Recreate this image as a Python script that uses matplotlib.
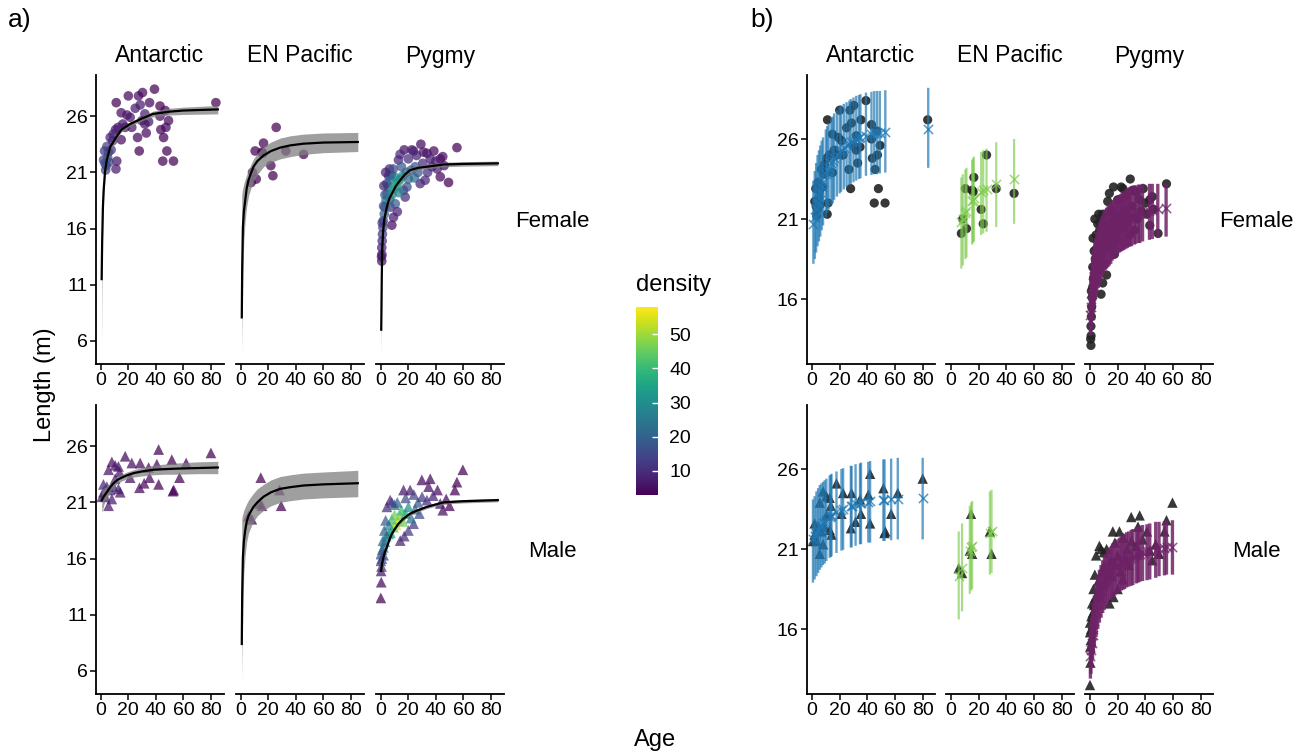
#########################################
# 1. Imports
#########################################

import numpy as np
import matplotlib.pyplot as plt
from matplotlib.colors import Normalize
from matplotlib.cm import ScalarMappable

plt.rcParams['font.family'] = ['Liberation Sans', 'DejaVu Sans']

#########################################
# 2. Data
#########################################

populations = ["Antarctic", "EN Pacific", "Pygmy"]
sexes = ["Female", "Male"]
x_ticks = [0, 20, 40, 60, 80]
left_y_ticks = [6, 11, 16, 21, 26]
right_y_ticks = [16, 21, 26]
density_ticks = [10, 20, 30, 40, 50]

# observed whales: (age, length, point density)
af_points = [
    (83.6, 27.2, 3), (39.0, 28.4, 3), (20.0, 27.8, 4), (27.4, 27.8, 5), (30.3, 28.1, 4),
    (11.2, 27.2, 3), (35.4, 27.2, 4), (43.0, 26.9, 3), (14.8, 26.3, 5), (19.0, 26.1, 6),
    (21.3, 25.9, 6), (25.0, 26.7, 7), (28.6, 27.0, 7), (32.0, 26.2, 7), (34.7, 25.5, 6),
    (32.0, 25.3, 6), (29.8, 25.6, 7), (43.0, 26.0, 5), (46.8, 26.5, 4), (49.2, 25.6, 4),
    (16.0, 25.3, 6), (22.5, 25.0, 6), (17.7, 25.0, 6), (26.7, 24.1, 4), (33.0, 24.5, 4),
    (43.6, 24.8, 4), (47.3, 25.0, 4), (45.6, 24.1, 3), (14.8, 23.9, 5), (10.7, 24.8, 6),
    (6.8, 24.1, 9), (27.9, 22.9, 3), (48.0, 22.9, 3), (45.0, 22.0, 3), (52.8, 22.0, 3),
    (11.6, 22.0, 6), (11.0, 21.3, 7), (2.7, 22.9, 12), (4.4, 23.3, 13), (2.0, 22.1, 14),
    (4.0, 21.6, 16), (5.0, 22.3, 16), (6.0, 21.9, 15), (3.5, 21.2, 14), (5.5, 22.8, 14),
    (7.5, 23.0, 11), (8.5, 23.8, 9), (3.0, 21.8, 15), (9.0, 24.4, 8), (12.5, 25.0, 7),
]
enpf_points = [
    (25.7, 25.0, 3), (16.5, 23.6, 3), (10.4, 22.9, 3), (15.3, 22.8, 3), (16.0, 22.7, 3),
    (32.7, 22.9, 3), (45.6, 22.6, 3), (21.8, 21.6, 3), (23.3, 20.7, 3), (8.5, 21.0, 3),
    (11.2, 20.4, 3), (7.5, 20.1, 3),
]
pf_points = [
    (55.3, 23.2, 3), (29.1, 23.5, 4), (17.0, 23.0, 5), (23.8, 22.9, 6), (12.8, 22.1, 8),
    (33.5, 22.7, 6), (35.9, 22.2, 7), (43.2, 22.2, 5), (45.0, 22.4, 5), (40.0, 22.0, 7),
    (43.2, 20.6, 4), (49.2, 20.1, 3), (28.6, 20.0, 8), (32.2, 20.3, 9), (26.0, 22.5, 8),
    (20.0, 22.2, 10), (30.5, 21.8, 10), (37.0, 21.5, 8), (5.6, 20.7, 10), (6.3, 21.3, 8),
    (4.4, 20.0, 14), (17.7, 18.8, 10), (16.5, 19.4, 14), (9.2, 17.0, 7), (8.0, 16.3, 5),
    (6.8, 17.9, 12), (0.7, 13.1, 6), (0.8, 13.7, 7), (0.7, 14.3, 8), (1.0, 14.9, 10),
    (1.2, 15.5, 12), (1.5, 16.1, 14), (1.8, 16.7, 16), (2.5, 17.3, 18), (3.0, 17.9, 20),
    (3.8, 18.5, 22), (4.5, 19.1, 22), (5.5, 19.7, 24), (7.0, 20.3, 22), (0.5, 13.5, 6),
    (1.0, 16.5, 12), (2.0, 18.0, 16), (3.0, 19.0, 18), (8.0, 19.0, 30), (9.5, 19.5, 34),
    (11.0, 19.8, 36), (12.5, 20.1, 35), (14.0, 20.4, 33), (10.0, 20.6, 30), (13.0, 19.2, 28),
    (16.0, 20.7, 28), (18.5, 21.0, 24), (20.0, 20.4, 22), (22.0, 21.2, 20), (24.5, 20.5, 22),
    (25.0, 21.5, 18), (27.0, 21.0, 18), (6.5, 18.6, 26), (7.5, 20.8, 20), (9.0, 21.3, 16),
    (15.0, 21.5, 18), (19.0, 19.7, 16), (10.5, 18.2, 18), (14.0, 22.6, 9), (22.5, 23.0, 8),
    (31.0, 22.8, 6), (38.5, 22.9, 4), (41.0, 21.3, 7), (46.0, 21.6, 5), (34.0, 21.0, 10),
    (12.0, 17.5, 8), (2.2, 19.8, 9), (3.5, 21.0, 8),
]
am_points = [
    (80.0, 25.4, 3), (42.0, 25.7, 3), (17.7, 25.1, 4), (51.6, 24.8, 3), (62.0, 24.5, 3),
    (8.0, 24.6, 5), (10.4, 24.3, 6), (12.8, 24.2, 6), (22.5, 24.5, 5), (28.6, 24.5, 4),
    (34.7, 24.1, 4), (40.7, 24.4, 4), (13.6, 23.7, 6), (5.6, 23.9, 6), (21.3, 23.2, 5),
    (35.4, 23.2, 4), (31.5, 22.7, 4), (28.1, 22.3, 4), (42.0, 22.6, 3), (57.2, 23.2, 3),
    (52.4, 22.0, 3), (53.0, 22.1, 3), (1.9, 22.6, 8), (4.4, 22.4, 9), (1.9, 21.9, 8),
    (6.8, 22.1, 9), (9.2, 22.4, 8), (12.8, 22.2, 7), (14.1, 21.9, 6), (8.0, 21.3, 7),
    (5.6, 20.7, 6), (10.4, 23.1, 7), (3.2, 21.5, 8), (0.7, 21.5, 6),
]
enpm_points = [
    (14.5, 23.2, 3), (28.1, 22.1, 3), (29.3, 20.7, 3), (15.3, 20.7, 3), (13.6, 20.9, 3),
    (5.6, 19.8, 3), (8.0, 19.5, 3),
]
pm_points = [
    (59.6, 23.9, 3), (55.3, 22.8, 3), (53.8, 22.1, 3), (49.9, 20.7, 3), (47.5, 21.3, 4),
    (29.8, 23.0, 4), (35.9, 23.1, 4), (34.7, 22.4, 5), (41.2, 22.1, 5), (16.5, 22.1, 6),
    (21.3, 22.1, 7), (4.4, 20.6, 10), (6.8, 21.2, 8), (14.1, 17.6, 8), (23.8, 19.1, 12),
    (33.5, 21.2, 10), (43.2, 20.9, 6), (0.0, 12.5, 3), (0.3, 13.9, 4), (0.2, 14.9, 6),
    (0.0, 15.8, 12), (0.0, 16.4, 16), (1.9, 17.0, 22), (5.6, 18.2, 30), (9.2, 18.8, 44),
    (12.8, 19.4, 56), (11.0, 19.0, 54), (14.0, 19.8, 50), (10.0, 19.9, 46), (8.0, 19.5, 42),
    (16.0, 19.3, 46), (15.0, 20.3, 40), (18.0, 20.0, 38), (20.0, 20.6, 30), (7.0, 18.3, 36),
    (6.0, 19.0, 30), (4.0, 18.0, 26), (3.0, 17.5, 26), (2.5, 18.5, 20), (3.5, 19.4, 18),
    (1.0, 16.8, 20), (1.5, 17.6, 22), (22.0, 19.6, 24), (25.0, 20.4, 22), (28.0, 20.0, 16),
    (27.0, 21.0, 18), (30.0, 21.5, 12), (24.0, 21.7, 14), (18.0, 21.4, 16), (12.0, 21.0, 20),
    (10.0, 20.8, 22), (8.0, 21.0, 14), (38.0, 21.6, 8), (45.0, 20.3, 5), (20.0, 18.5, 12),
    (17.0, 18.0, 10), (0.5, 15.3, 10), (0.8, 16.0, 16), (2.0, 16.3, 14),
]

# fitted growth curves for panel a): (age, lower, fit, upper)
af_curve = [
    (0.6, 5.5, 11.5, 12.5), (1.0, 13.0, 15.0, 16.0), (1.5, 16.8, 17.8, 18.6), (2.0, 18.5, 19.3, 19.9),
    (3.0, 20.4, 21.0, 21.5), (4.4, 21.7, 22.1, 22.5), (7.0, 23.0, 23.3, 23.6), (11.6, 24.0, 24.2, 24.5),
    (15.0, 24.6, 24.8, 25.0), (21.3, 25.1, 25.3, 25.5), (30.0, 25.6, 25.8, 26.0), (38.0, 25.95, 26.2, 26.45),
    (50.0, 26.1, 26.4, 26.7), (60.0, 26.15, 26.5, 26.8), (85.0, 26.2, 26.6, 26.95),
]
enpf_curve = [
    (0.7, 5.0, 8.1, 19.0), (1.0, 8.0, 12.5, 19.3), (1.5, 12.0, 16.1, 19.6), (2.2, 15.0, 17.5, 20.0),
    (3.2, 16.8, 18.5, 20.4), (4.3, 18.0, 19.6, 20.8), (5.6, 18.9, 20.3, 21.2), (7.3, 19.6, 20.9, 21.7),
    (9.2, 20.2, 21.5, 22.2), (12.0, 20.8, 22.0, 22.7), (16.5, 21.5, 22.5, 23.3), (22.0, 21.9, 22.9, 23.7),
    (28.6, 22.2, 23.2, 24.05), (36.0, 22.4, 23.4, 24.25), (45.6, 22.6, 23.55, 24.4), (60.0, 22.75, 23.65, 24.5),
    (85.0, 22.85, 23.7, 24.55),
]
pf_curve = [
    (0.3, 4.5, 7.0, 7.6), (0.7, 10.8, 11.7, 12.3), (1.0, 13.6, 14.1, 14.5), (1.6, 15.3, 15.6, 15.9),
    (2.4, 16.5, 16.7, 16.9), (3.3, 17.1, 17.3, 17.5), (4.4, 17.7, 17.9, 18.1), (6.0, 18.4, 18.6, 18.8),
    (8.0, 18.9, 19.1, 19.3), (11.0, 19.6, 19.8, 20.0), (14.1, 20.1, 20.3, 20.5), (17.5, 20.6, 20.8, 21.0),
    (21.3, 21.0, 21.2, 21.4), (27.0, 21.2, 21.4, 21.6), (33.5, 21.3, 21.5, 21.7), (45.6, 21.5, 21.7, 21.9),
    (60.0, 21.55, 21.75, 21.95), (85.0, 21.6, 21.8, 22.0),
]
am_curve = [
    (0.7, 20.1, 21.2, 22.2), (2.5, 20.9, 21.6, 22.3), (4.4, 21.4, 21.9, 22.4), (6.8, 21.95, 22.35, 22.75),
    (9.2, 22.35, 22.7, 23.05), (12.0, 22.7, 23.0, 23.3), (15.3, 22.9, 23.2, 23.5), (19.0, 23.1, 23.4, 23.7),
    (23.8, 23.25, 23.6, 23.9), (30.0, 23.35, 23.75, 24.1), (38.3, 23.45, 23.9, 24.3), (46.0, 23.5, 23.95, 24.4),
    (55.3, 23.5, 24.0, 24.5), (70.0, 23.55, 24.05, 24.6), (85.0, 23.55, 24.1, 24.65),
]
enpm_curve = [
    (0.7, 5.2, 8.4, 19.5), (1.0, 8.0, 12.8, 19.8), (1.5, 12.0, 16.1, 20.0), (2.2, 14.8, 17.5, 20.3),
    (3.2, 16.4, 18.5, 20.6), (4.3, 17.5, 19.3, 20.9), (5.6, 18.3, 19.8, 21.2), (7.3, 18.8, 20.2, 21.5),
    (9.2, 19.3, 20.6, 21.8), (12.0, 19.8, 21.0, 22.2), (16.5, 20.3, 21.5, 22.6), (22.0, 20.7, 21.9, 23.0),
    (28.6, 21.0, 22.2, 23.3), (36.0, 21.15, 22.35, 23.45), (45.6, 21.3, 22.5, 23.6), (60.0, 21.4, 22.6, 23.7),
    (85.0, 21.5, 22.7, 23.85),
]
pm_curve = [
    (0.2, 14.4, 14.9, 15.3), (1.0, 15.4, 15.6, 15.8), (1.9, 15.95, 16.1, 16.25), (3.0, 16.45, 16.6, 16.75),
    (4.4, 16.85, 17.0, 17.15), (6.0, 17.45, 17.6, 17.75), (8.0, 18.05, 18.2, 18.35), (10.0, 18.45, 18.6, 18.75),
    (12.8, 18.95, 19.1, 19.25), (16.0, 19.35, 19.5, 19.65), (21.3, 19.85, 20.0, 20.15), (27.0, 20.15, 20.3, 20.45),
    (33.5, 20.45, 20.6, 20.75), (45.6, 20.85, 21.0, 21.15), (60.0, 20.95, 21.1, 21.25), (85.0, 21.05, 21.2, 21.35),
]

# predictive intervals for panel b): (age, lower, mean, upper)
af_bars = [
    (1.0, 18.2, 20.7, 23.4), (2.0, 18.5, 21.1, 24.0), (3.0, 18.9, 21.6, 24.5), (4.0, 19.3, 22.0, 25.0),
    (5.0, 19.6, 22.4, 25.3), (6.0, 19.9, 22.7, 25.6), (7.0, 20.3, 23.0, 25.9), (8.0, 20.6, 23.3, 26.1),
    (10.0, 21.1, 23.8, 26.6), (11.0, 21.4, 24.0, 26.8), (12.0, 21.6, 24.2, 27.0), (14.0, 21.9, 24.5, 27.3),
    (15.0, 22.0, 24.6, 27.4), (16.0, 22.2, 24.8, 27.6), (18.0, 22.4, 25.0, 27.8), (20.0, 22.6, 25.2, 28.0),
    (21.0, 22.7, 25.3, 28.1), (23.0, 22.85, 25.45, 28.2), (25.0, 23.0, 25.6, 28.3), (27.0, 23.1, 25.7, 28.4),
    (28.0, 23.2, 25.8, 28.5), (30.0, 23.3, 25.9, 28.6), (32.0, 23.4, 26.0, 28.7), (34.0, 23.5, 26.05, 28.75),
    (35.0, 23.55, 26.1, 28.8), (39.0, 23.7, 26.2, 28.9), (43.0, 23.75, 26.3, 28.95), (45.0, 23.8, 26.35, 29.0),
    (47.0, 23.8, 26.4, 29.0), (49.0, 23.85, 26.4, 29.0), (53.0, 23.9, 26.45, 29.05), (84.0, 24.2, 26.6, 29.2),
]
enpf_bars = [
    (7.5, 17.9, 20.8, 23.6), (8.5, 18.1, 21.0, 23.8), (10.4, 18.5, 21.4, 24.1), (11.2, 18.6, 21.5, 24.2),
    (15.3, 19.4, 22.1, 24.7), (16.0, 19.5, 22.2, 24.8), (16.5, 19.6, 22.3, 24.9), (21.8, 20.0, 22.7, 25.2),
    (23.3, 20.1, 22.8, 25.3), (25.7, 20.2, 22.9, 25.4), (32.7, 20.5, 23.2, 25.8), (45.6, 20.7, 23.5, 26.0),
]
pf_bars = [
    (0.3, 13.7, 15.0, 16.6), (0.7, 14.0, 15.5, 17.2), (1.0, 14.3, 15.9, 17.7), (1.5, 14.7, 16.3, 18.2),
    (2.0, 15.1, 16.7, 18.6), (2.5, 15.4, 17.0, 19.0), (3.0, 15.7, 17.4, 19.3), (3.5, 15.9, 17.6, 19.6),
    (4.0, 16.1, 17.9, 19.8), (5.0, 16.4, 18.3, 20.2), (6.0, 16.7, 18.6, 20.5), (7.0, 16.9, 18.9, 20.8),
    (8.0, 17.2, 19.1, 21.0), (9.0, 17.4, 19.3, 21.2), (10.0, 17.6, 19.5, 21.4), (11.0, 17.8, 19.7, 21.6),
    (12.0, 17.9, 19.8, 21.7), (13.0, 18.0, 19.9, 21.8), (14.0, 18.1, 20.0, 21.9), (15.0, 18.2, 20.1, 22.0),
    (16.0, 18.4, 20.2, 22.1), (17.0, 18.5, 20.3, 22.2), (18.0, 18.6, 20.4, 22.3), (19.0, 18.7, 20.5, 22.35),
    (20.0, 18.85, 20.6, 22.4), (21.0, 18.9, 20.7, 22.5), (22.0, 18.95, 20.75, 22.55), (23.0, 19.0, 20.8, 22.6),
    (24.0, 19.05, 20.85, 22.7), (25.0, 19.1, 20.9, 22.75), (26.0, 19.15, 20.95, 22.8), (27.0, 19.2, 21.0, 22.9),
    (28.0, 19.25, 21.05, 22.95), (29.0, 19.3, 21.1, 23.0), (30.0, 19.3, 21.15, 23.05), (32.0, 19.4, 21.2, 23.1),
    (33.0, 19.45, 21.25, 23.1), (35.0, 19.5, 21.3, 23.15), (36.0, 19.5, 21.35, 23.15), (38.0, 19.6, 21.4, 23.2),
    (43.0, 19.7, 21.5, 23.2), (45.0, 19.75, 21.55, 23.2), (49.0, 19.85, 21.65, 23.2), (55.0, 19.9, 21.7, 23.2),
]
am_bars = [
    (0.7, 18.9, 21.6, 24.1), (1.9, 19.1, 21.8, 24.3), (3.2, 19.3, 22.0, 24.6), (4.4, 19.5, 22.2, 24.8),
    (5.6, 19.7, 22.35, 25.0), (6.8, 19.85, 22.5, 25.1), (8.0, 20.0, 22.6, 25.2), (9.2, 20.1, 22.7, 25.3),
    (10.4, 20.25, 22.8, 25.4), (12.8, 20.45, 23.0, 25.6), (13.6, 20.5, 23.05, 25.65), (14.1, 20.55, 23.1, 25.7),
    (17.7, 20.75, 23.3, 25.85), (21.3, 20.9, 23.45, 26.0), (22.5, 20.95, 23.5, 26.05), (28.1, 21.1, 23.7, 26.2),
    (28.6, 21.1, 23.7, 26.2), (31.5, 21.2, 23.8, 26.3), (34.7, 21.3, 23.85, 26.35), (35.4, 21.3, 23.9, 26.4),
    (40.7, 21.4, 23.95, 26.45), (42.0, 21.4, 24.0, 26.5), (51.6, 21.5, 24.05, 26.6), (52.4, 21.5, 24.05, 26.6),
    (57.2, 21.55, 24.1, 26.65), (62.0, 21.6, 24.1, 26.7), (80.0, 21.6, 24.2, 26.7),
]
enpm_bars = [
    (5.6, 16.6, 19.3, 22.1), (8.0, 17.1, 19.8, 22.6), (13.6, 18.2, 20.9, 23.7), (14.5, 18.4, 21.1, 23.9),
    (15.3, 18.5, 21.2, 24.0), (28.1, 19.4, 22.0, 24.6), (29.3, 19.5, 22.1, 24.7),
]
pm_bars = [
    (0.3, 12.9, 14.3, 15.8), (0.7, 13.2, 14.7, 16.2), (1.2, 13.6, 15.1, 16.7), (1.9, 14.1, 15.6, 17.2),
    (2.5, 14.5, 16.0, 17.6), (3.2, 14.9, 16.5, 18.1), (4.4, 15.5, 17.1, 18.8), (5.6, 16.0, 17.6, 19.3),
    (6.8, 16.4, 18.0, 19.7), (8.0, 16.7, 18.4, 20.0), (9.2, 17.0, 18.7, 20.3), (10.4, 17.2, 18.9, 20.5),
    (11.5, 17.4, 19.1, 20.7), (12.8, 17.6, 19.3, 20.9), (14.1, 17.8, 19.5, 21.1), (15.5, 17.9, 19.6, 21.2),
    (16.5, 18.0, 19.7, 21.35), (18.0, 18.1, 19.85, 21.5), (19.5, 18.2, 19.95, 21.6), (21.3, 18.3, 20.05, 21.7),
    (22.5, 18.4, 20.1, 21.8), (23.8, 18.45, 20.2, 21.9), (25.0, 18.5, 20.25, 21.95), (26.5, 18.6, 20.3, 22.05),
    (28.0, 18.65, 20.4, 22.1), (29.8, 18.7, 20.45, 22.2), (31.0, 18.75, 20.5, 22.25), (33.5, 18.85, 20.6, 22.35),
    (34.7, 18.9, 20.65, 22.4), (35.9, 18.95, 20.7, 22.45), (38.0, 19.0, 20.75, 22.5), (41.2, 19.05, 20.85, 22.55),
    (43.2, 19.1, 20.9, 22.6), (47.5, 19.2, 20.95, 22.7), (49.9, 19.3, 21.0, 22.7), (53.8, 19.35, 21.05, 22.75),
    (55.3, 19.4, 21.1, 22.8), (59.6, 19.4, 21.15, 22.8),
]

pop_colors = ["#1f78b4", "#7ccb4c", "#6e2266"]
bar_alpha = [0.7, 0.65, 0.85]
bar_width = [1.7, 1.6, 2.4]

#########################################
# 3. Lookup tables and layout helpers
#########################################

points = {
    ("Antarctic", "Female"): af_points, ("EN Pacific", "Female"): enpf_points, ("Pygmy", "Female"): pf_points,
    ("Antarctic", "Male"): am_points, ("EN Pacific", "Male"): enpm_points, ("Pygmy", "Male"): pm_points,
}
curves = {
    ("Antarctic", "Female"): af_curve, ("EN Pacific", "Female"): enpf_curve, ("Pygmy", "Female"): pf_curve,
    ("Antarctic", "Male"): am_curve, ("EN Pacific", "Male"): enpm_curve, ("Pygmy", "Male"): pm_curve,
}
bars = {
    ("Antarctic", "Female"): af_bars, ("EN Pacific", "Female"): enpf_bars, ("Pygmy", "Female"): pf_bars,
    ("Antarctic", "Male"): am_bars, ("EN Pacific", "Male"): enpm_bars, ("Pygmy", "Male"): pm_bars,
}
markers = {"Female": "o", "Male": "^"}

W, H = 1314, 755
fig = plt.figure(figsize=(W / 100, H / 100), dpi=100)
fig.patch.set_facecolor("white")

left_cols_px = [96, 236, 376]
right_cols_px = [807, 946, 1085]
rows_px = [75, 405]
panel_w, panel_h = 128, 289


def add_panel(px_left, px_top):
    return fig.add_axes([px_left / W, 1 - (px_top + panel_h) / H, panel_w / W, panel_h / H])


def fig_text(px, py, s, **kw):
    fig.text(px / W, 1 - py / H, s, **kw)


def style_axis(ax, show_y):
    ax.spines["top"].set_visible(False)
    ax.spines["right"].set_visible(False)
    ax.spines["bottom"].set_linewidth(1.3)
    ax.spines["left"].set_linewidth(1.3)
    ax.tick_params(length=4, width=1.1, labelsize=14, colors="black", pad=2)
    ax.set_xticks(x_ticks)
    if not show_y:
        ax.spines["left"].set_visible(False)
        ax.tick_params(axis="y", left=False, labelleft=False)
    ax.set_facecolor("none")


norm = Normalize(vmin=2.9, vmax=58)
cmap = plt.get_cmap("viridis")

#########################################
# 4. Panel a) - growth curves with point density
#########################################

for r, sex in enumerate(sexes):
    for c, pop in enumerate(populations):
        ax = add_panel(left_cols_px[c], rows_px[r])
        pts = np.array(points[(pop, sex)])
        crv = np.array(curves[(pop, sex)])
        ax.scatter(pts[:, 0], pts[:, 1], c=pts[:, 2], cmap=cmap, norm=norm,
                   marker=markers[sex], s=48 if sex == "Female" else 60,
                   alpha=0.72, edgecolors="none", zorder=2)
        ax.fill_between(crv[:, 0], crv[:, 1], crv[:, 3], color="#7f7f7f",
                        alpha=0.75, lw=0, zorder=3)
        ax.plot(crv[:, 0], crv[:, 2], color="black", lw=1.6, zorder=4)
        ax.set_xlim(-3.5, 89.5)
        ax.set_ylim(3.95, 29.66)
        ax.set_yticks(left_y_ticks)
        style_axis(ax, c == 0)

#########################################
# 5. Panel b) - predictive intervals
#########################################

for r, sex in enumerate(sexes):
    for c, pop in enumerate(populations):
        ax = add_panel(right_cols_px[c], rows_px[r])
        pts = np.array(points[(pop, sex)])
        b = np.array(bars[(pop, sex)])
        ax.scatter(pts[:, 0], pts[:, 1], color="#222222", marker=markers[sex],
                   s=44 if sex == "Female" else 56, alpha=0.9, edgecolors="none", zorder=2)
        ax.vlines(b[:, 0], b[:, 1], b[:, 3], color=pop_colors[c], alpha=bar_alpha[c],
                  lw=bar_width[c], snap=False, zorder=3)
        ax.scatter(b[:, 0], b[:, 2], marker="x", color=pop_colors[c], s=44,
                   linewidths=1.1, alpha=0.75, zorder=4)
        ax.set_xlim(-3.6, 88.9)
        ax.set_ylim(11.94, 30.0)
        ax.set_yticks(right_y_ticks)
        style_axis(ax, c == 0)

#########################################
# 6. Colour bar, strips and labels
#########################################

cax = fig.add_axes([636 / W, 1 - 495 / H, 22 / W, 188 / H])
cb = fig.colorbar(ScalarMappable(norm=norm, cmap=cmap), cax=cax, ticks=density_ticks)
cb.outline.set_visible(False)
cax.tick_params(direction="in", color="white", length=4, width=1, labelsize=14, pad=8)
for lab in cax.get_yticklabels():
    lab.set_color("black")
fig_text(636, 285, "density", fontsize=17, ha="left", va="center")

for c, pop in enumerate(populations):
    fig_text(left_cols_px[c] + panel_w / 2, 56, pop, fontsize=16.5, ha="center", va="center")
    fig_text(right_cols_px[c] + panel_w / 2, 56, pop, fontsize=16.5, ha="center", va="center")

for r, sex in enumerate(sexes):
    y_mid = rows_px[r] + panel_h / 2 + 2
    fig_text(552, y_mid, sex, fontsize=16, ha="center", va="center")
    fig_text(1256, y_mid, sex, fontsize=16, ha="center", va="center")

fig_text(45, 385, "Length (m)", fontsize=17, rotation=90, ha="center", va="center")
fig_text(655, 740, "Age", fontsize=17, ha="center", va="center")
fig_text(8, 20, "a)", fontsize=19, ha="left", va="center")
fig_text(750, 20, "b)", fontsize=19, ha="left", va="center")

fig.savefig("out.png", dpi=100)
print("Saved out.png")
